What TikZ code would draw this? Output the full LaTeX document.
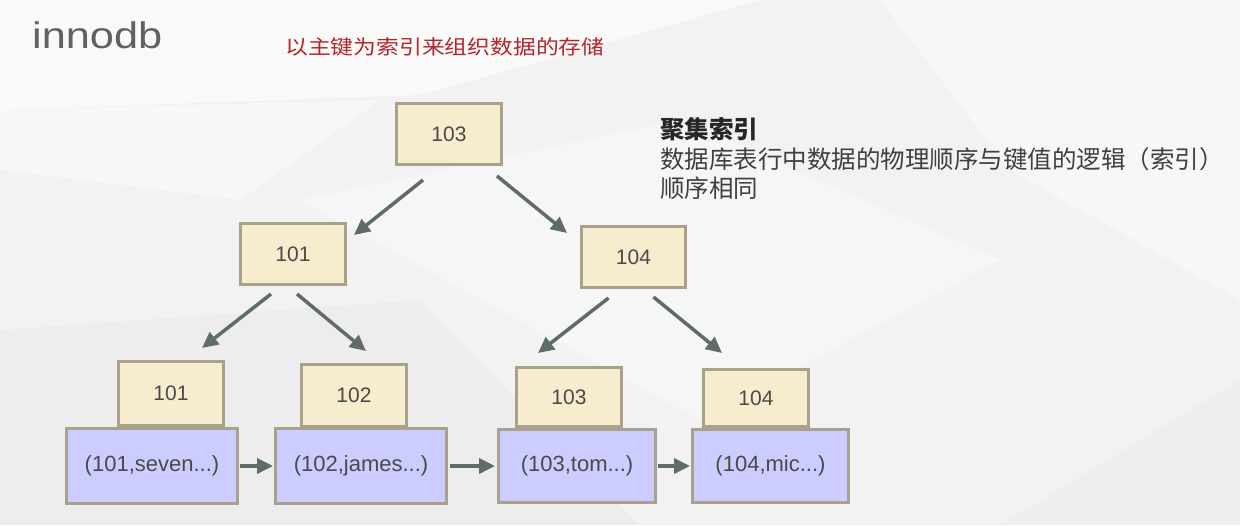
\documentclass[tikz,border=0pt]{standalone}
\usepackage{fontspec}
\setmainfont{Liberation Sans}
\newfontfamily\cjk{Noto Sans CJK SC}
\usetikzlibrary{arrows.meta}
\definecolor{bgc}{HTML}{F2F2F2}
\definecolor{keyfill}{HTML}{F8ECCF}
\definecolor{datafill}{HTML}{CCCCFF}
\definecolor{boxline}{HTML}{A9A18C}
\definecolor{arrc}{HTML}{5E6C6A}
\definecolor{txtc}{HTML}{4A4A4A}
\definecolor{redc}{HTML}{B3262A}
\tikzset{
  keybox/.style={draw=boxline, fill=keyfill, line width=3pt, inner sep=0pt,
    font=\fontsize{21}{25}\selectfont, text=txtc},
  databox/.style={draw=boxline, fill=datafill, line width=3pt, inner sep=0pt,
    font=\fontsize{22}{26}\selectfont, text=txtc},
  arr/.style={draw=arrc, line width=3.5pt, -{Triangle[length=16pt,width=15pt]}},
}
\begin{document}
\begin{tikzpicture}[x=1pt,y=-1pt]
\useasboundingbox (0,0) rectangle (1240,525);
% background
\fill[bgc] (0,0) rectangle (1240,525);
\fill[white,opacity=.55] (0,0) -- (760,0) -- (420,95) -- (0,110) -- cycle;
\fill[white,opacity=.45] (880,0) -- (1240,0) -- (1240,300) -- (1010,170) -- cycle;
\fill[white,opacity=.35] (300,200) -- (680,120) -- (1000,260) -- (700,420) -- cycle;
\fill[black,opacity=.02] (0,330) -- (420,300) -- (640,525) -- (0,525) -- cycle;
\fill[black,opacity=.015] (1240,380) -- (1000,525) -- (1240,525) -- cycle;
\fill[white,opacity=.4] (0,110) -- (380,100) -- (240,200) -- (0,170) -- cycle;

% titles
\node[anchor=base west, inner sep=0pt, text=black!62, font=\fontsize{37}{40}\selectfont] (title) at (32,48) {\scalebox{1.17}[1]{innodb}};
\node[anchor=base west, inner sep=0pt, text=redc, font=\cjk\fontsize{20}{24}\selectfont] (sub) at (285,54) {\scalebox{1.14}[1]{以主键为索引来组织数据的存储}};
\node[anchor=base west, inner sep=0pt, text=black!85, font=\cjk\bfseries\fontsize{24.5}{30}\selectfont] (h1) at (660,138) {聚集索引};
\node[anchor=base west, inner sep=0pt, text=black!75, font=\cjk\fontsize{24.5}{30}\selectfont] (h2) at (660,168) {数据库表行中数据的物理顺序与键值的逻辑（索引）};
\node[anchor=base west, inner sep=0pt, text=black!75, font=\cjk\fontsize{24.5}{30}\selectfont] (h3) at (660,197) {顺序相同};

% tree nodes
\node[keybox, minimum width=105pt, minimum height=61pt] (top) at (449,134) {103};
\node[keybox, minimum width=105pt, minimum height=61pt] (l1) at (293,254) {101};
\node[keybox, minimum width=104pt, minimum height=61pt] (r1) at (633.5,257) {104};

% leaf keys
\node[keybox, minimum width=105pt, minimum height=64pt] (k1) at (171,393.5) {101};
\node[keybox, minimum width=105pt, minimum height=62pt] (k2) at (354,395.5) {102};
\node[keybox, minimum width=105pt, minimum height=59pt] (k3) at (569,397) {103};
\node[keybox, minimum width=105pt, minimum height=57pt] (k4) at (756,398) {104};

% data boxes
\node[databox, minimum width=171pt, minimum height=75pt] (d1) at (152,466) {(101,seven...)};
\node[databox, minimum width=171pt, minimum height=75pt] (d2) at (361,466) {(102,james...)};
\node[databox, minimum width=157pt, minimum height=73pt] (d3) at (577,466) {(103,tom...)};
\node[databox, minimum width=156pt, minimum height=73pt] (d4) at (770.5,466) {(104,mic...)};

% tree arrows
\draw[arr] ([shift={(-26,14)}]top.south) -- ([shift={(7,13)}]l1.north east);
\draw[arr] ([shift={(48,10)}]top.south) -- ([shift={(-13,8)}]r1.north west);
\draw[arr] ([shift={(-22,8)}]l1.south) -- ([shift={(31,-12)}]k1.north);
\draw[arr] ([shift={(4,8)}]l1.south) -- ([shift={(12,-12)}]k2.north);
\draw[arr] ([shift={(-25,9)}]r1.south) -- ([shift={(-31,-13)}]k3.north);
\draw[arr] ([shift={(20,8)}]r1.south) -- ([shift={(-34,-15)}]k4.north);

% list arrows
\draw[arr] ([xshift=1pt]d1.east) -- ([xshift=-1pt]d2.west);
\draw[arr] ([xshift=2pt]d2.east) -- ([xshift=-2pt]d3.west);
\draw[arr] ([xshift=1pt]d3.east) -- ([xshift=-1pt]d4.west);
\end{tikzpicture}
\end{document}
